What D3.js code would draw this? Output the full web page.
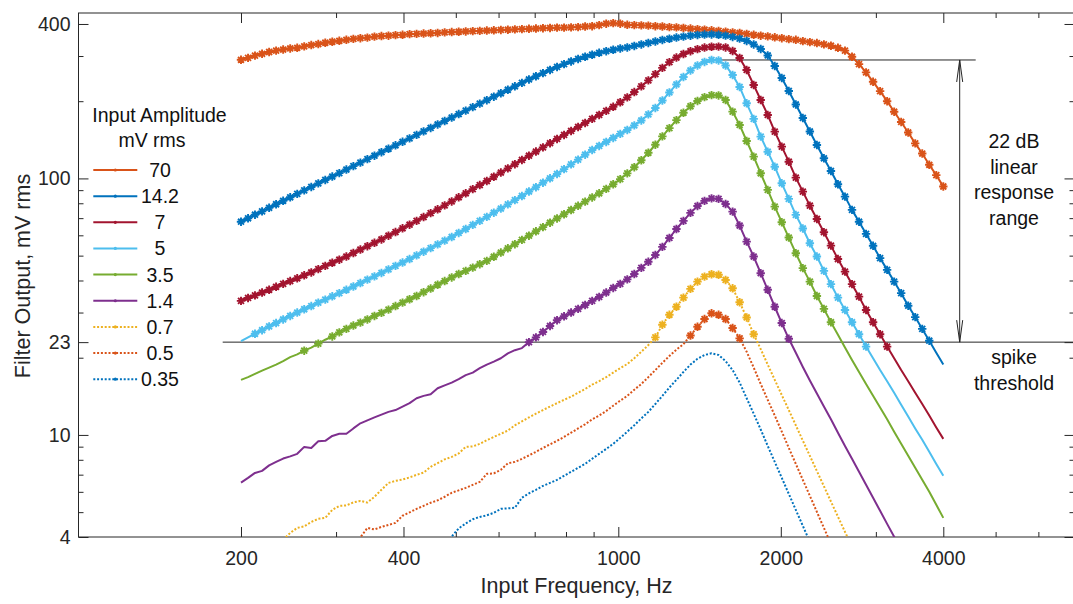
<!DOCTYPE html>
<html>
<head>
<meta charset="utf-8">
<script src="https://cdn.jsdelivr.net/npm/d3@7"></script>
<style>
  body { margin: 0; background: #fff; }
  svg { display: block; }
  text { font-family: "Liberation Sans", Arial, Helvetica, sans-serif; }
</style>
</head>
<body>
<svg id="chart" width="1073" height="604"></svg>
<script>
// Stimulus frequencies (Hz), log-spaced sweep 200 Hz .. 4 kHz
const freqs = [
  200.0, 206.1, 212.3, 218.8, 225.5, 232.3, 239.4, 246.7, 254.2, 261.9,
  269.9, 278.1, 286.5, 295.2, 304.2, 313.5, 323.0, 332.8, 342.9, 353.4,
  364.1, 375.2, 386.6, 398.4, 410.5, 423.0, 435.8, 449.1, 462.7, 476.8,
  491.3, 506.2, 521.6, 537.5, 553.8, 570.7, 588.0, 605.9, 624.3, 643.3,
  662.9, 683.1, 703.8, 725.2, 747.3, 770.0, 793.4, 817.5, 842.4, 868.0,
  894.4, 921.6, 949.7, 978.5, 1008.3, 1039.0, 1070.6, 1103.1, 1136.7, 1171.2,
  1206.8, 1243.5, 1281.4, 1320.3, 1360.5, 1401.8, 1444.5, 1488.4, 1533.7, 1580.3,
  1628.4, 1677.9, 1728.9, 1781.5, 1835.7, 1891.5, 1949.0, 2008.3, 2069.3, 2132.3,
  2197.1, 2263.9, 2332.8, 2403.7, 2476.8, 2552.1, 2629.8, 2709.7, 2792.1, 2877.0,
  2964.5, 3054.7, 3147.6, 3243.3, 3341.9, 3443.6, 3548.3, 3656.2, 3767.4, 3881.9,
  4000.0
];

// Input amplitudes (mV rms) and legend styling
const amplitudes = ["70", "14.2", "7", "5", "3.5", "1.4", "0.7", "0.5", "0.35"];
const colors = ["#D95319", "#0072BD", "#A2142F", "#4DBEEE", "#77AC30", "#7E2F8E", "#EDB120", "#D95319", "#0072BD"];
const dotted = [false, false, false, false, false, false, true, true, true];

// Filter output (mV rms) for each input amplitude; firstIdx = index into freqs of first value
const out70 = [
  290, 295, 301, 306, 311, 315, 318, 321, 323, 327,
  331, 334, 338, 341, 344, 347, 350, 352, 354, 357,
  359, 360, 362, 363, 365, 366, 367, 368, 369, 371,
  372, 373, 374, 375, 376, 377, 378, 379, 380, 381,
  382, 383, 384, 385, 386, 387, 387, 388, 389, 391,
  392, 396, 401, 403, 401, 397, 396, 395, 394, 392,
  391, 389, 388, 386, 384, 382, 380, 378, 376, 373,
  371, 369, 366, 363, 360, 358, 355, 352, 349, 347,
  343, 340, 337, 333, 329, 323, 315, 298, 279, 259,
  238, 219, 200, 182, 166, 151, 137, 125, 113, 103, 93
];
const out14_2 = [
  67.8, 69.9, 72.2, 74.4, 76.8, 79.3, 81.8, 84.4, 87.0, 89.8,
  92.6, 95.6, 98.6, 101.7, 104.9, 108.3, 111.7, 115.2, 118.9, 122.6,
  126.5, 130.5, 134.6, 138.9, 143.3, 147.8, 152.5, 157.3, 162.3, 167.4,
  172.7, 178.2, 183.8, 189.6, 195.6, 201.8, 208.2, 214.8, 221.6, 228.6,
  235.8, 243.1, 250.2, 257.4, 264.7, 272.0, 278.9, 285.7, 292.2, 298.0,
  303.4, 308.8, 313.3, 317.4, 321.1, 324.0, 328.4, 332.8, 337.3, 341.9,
  346.5, 350.3, 354.1, 357.2, 360.1, 362.4, 363.7, 364.0, 363.0, 360.4,
  356.0, 350.6, 343.4, 332.8, 319.7, 301.5, 274.4, 246.4, 219.2, 194.2,
  172.1, 152.4, 135.0, 119.8, 106.9, 94.9, 84.9, 75.4, 67.8, 60.8,
  54.6, 48.9, 44.0, 39.6, 35.7, 31.9, 28.8, 25.9, 23.3, 20.9, 18.8
];
const out7 = [
  33.3, 34.2, 35.0, 35.9, 36.8, 37.8, 38.8, 39.8, 40.8, 41.9,
  43.0, 44.3, 45.6, 46.9, 48.2, 49.6, 51.2, 52.8, 54.4, 56.1,
  57.8, 59.8, 61.8, 63.9, 66.0, 68.3, 70.7, 73.2, 75.8, 78.5,
  81.3, 84.4, 87.5, 90.8, 94.2, 97.7, 101.5, 105.4, 109.4, 113.6,
  118.0, 122.6, 127.3, 132.1, 137.2, 142.5, 147.7, 153.1, 158.7, 164.5,
  170.6, 176.8, 183.3, 190.2, 198.1, 207.0, 217.1, 228.5, 241.1, 254.9,
  269.6, 284.0, 295.9, 305.5, 313.3, 319.1, 323.7, 326.0, 326.3, 324.0,
  313.9, 294.8, 264.7, 231.4, 202.2, 176.8, 152.2, 133.0, 116.2, 100.7,
  88.8, 78.3, 69.5, 61.7, 54.7, 48.5, 43.3, 38.7, 34.6, 30.7,
  27.5, 24.7, 22.1, 19.9, 17.9, 16.2, 14.6, 13.2, 11.9, 10.7, 9.65
];
const out5 = [
  23.2, 24.0, 24.8, 25.6, 26.5, 27.3, 28.2, 29.1, 30.0, 30.9,
  31.8, 32.8, 33.7, 34.7, 35.7, 36.8, 37.9, 39.1, 40.3, 41.5,
  42.8, 44.2, 45.6, 47.0, 48.5, 50.1, 51.8, 53.5, 55.3, 57.2,
  59.1, 61.3, 63.5, 65.9, 68.3, 70.8, 73.5, 76.3, 79.2, 82.3,
  85.4, 88.9, 92.4, 96.2, 100.1, 104.1, 108.7, 113.4, 118.4, 123.7,
  129.1, 133.8, 138.7, 143.8, 149.1, 154.5, 160.9, 168.2, 177.6, 188.2,
  201.3, 216.3, 232.4, 248.6, 263.5, 275.7, 284.5, 289.6, 288.3, 275.7,
  253.1, 227.3, 196.3, 170.6, 145.5, 127.1, 111.1, 95.7, 83.2, 72.1,
  63.8, 55.9, 49.6, 43.6, 38.7, 34.3, 30.7, 27.5, 24.7, 22.1,
  19.9, 17.9, 16.2, 14.6, 13.1, 11.8, 10.6, 9.57, 8.59, 7.71, 6.93
];
const out3_5 = [
  16.4, 16.8, 17.3, 17.8, 18.3, 18.8, 19.4, 20.1, 20.6, 21.3,
  21.9, 22.7, 23.5, 24.2, 25.1, 25.9, 26.7, 27.4, 28.2, 29.1,
  29.9, 30.8, 31.8, 32.8, 33.8, 34.8, 36.0, 37.2, 38.5, 39.8,
  41.1, 42.4, 43.6, 44.9, 46.3, 47.7, 49.5, 51.4, 53.4, 55.4,
  57.6, 59.8, 62.2, 64.6, 67.2, 69.8, 72.5, 75.3, 78.2, 81.2,
  84.3, 87.5, 91.0, 94.9, 99.4, 104.6, 110.6, 117.7, 125.9, 135.3,
  145.8, 157.0, 168.7, 180.3, 191.1, 200.4, 207.4, 211.1, 210.6, 202.2,
  182.1, 161.6, 139.9, 121.6, 104.7, 90.2, 77.6, 67.5, 58.8, 51.1,
  44.7, 39.6, 34.8, 31.0, 27.5, 24.6, 21.9, 19.6, 17.6, 15.8,
  14.2, 12.8, 11.5, 10.3, 9.23, 8.29, 7.44, 6.68, 6.00, 5.34, 4.75
];
const out1_4 = [
  6.52, 6.80, 7.11, 7.24, 7.61, 7.85, 8.09, 8.25, 8.44, 8.98,
  8.90, 9.44, 9.48, 9.91, 10.1, 10.1, 10.6, 11.1, 11.4, 11.7,
  12.0, 12.3, 12.5, 12.9, 13.3, 13.9, 14.2, 14.4, 15.2, 15.6,
  16.0, 16.5, 17.1, 17.5, 18.2, 18.8, 19.3, 19.9, 20.8, 21.4,
  21.8, 23.0, 24.0, 25.2, 26.6, 28.0, 29.0, 30.0, 31.0, 32.1,
  33.3, 34.5, 35.9, 37.4, 38.8, 40.4, 42.4, 44.8, 47.3, 50.3,
  54.1, 58.6, 63.5, 68.3, 73.4, 78.1, 81.7, 83.6, 83.2, 79.5,
  74.2, 65.5, 56.7, 49.6, 42.7, 36.8, 31.6, 27.3, 23.7, 20.9,
  18.4, 16.3, 14.5, 12.9, 11.5, 10.2, 9.06, 8.07, 7.18, 6.39,
  5.69, 5.06, 4.50, 4.01, 3.57
];
const out0_7 = [
  3.90, 4.15, 4.34, 4.40, 4.58, 4.71, 4.75, 5.10, 5.29, 5.31,
  5.46, 5.53, 5.45, 5.74, 6.11, 6.50, 6.62, 6.70, 6.83, 6.99,
  7.13, 7.51, 7.76, 8.03, 8.21, 8.47, 8.98, 9.02, 9.23, 9.54,
  9.82, 10.1, 10.4, 10.9, 11.3, 11.7, 12.1, 12.5, 12.9, 13.3,
  13.7, 14.1, 14.6, 15.1, 15.7, 16.2, 16.8, 17.5, 18.2, 18.9,
  19.9, 21.1, 22.4, 24.0, 26.9, 29.4, 31.6, 34.3, 37.1, 39.6,
  41.4, 42.3, 42.1, 40.2, 37.3, 32.9, 28.7, 24.7, 21.6, 18.8,
  16.4, 14.3, 12.5, 10.9, 9.50, 8.29, 7.23, 6.31, 5.50, 4.80, 4.19, 3.66
];
const out0_5 = [
  3.73, 3.99, 4.34, 4.28, 4.38, 4.46, 4.54, 4.84, 4.99, 5.15,
  5.29, 5.44, 5.56, 5.74, 5.95, 6.08, 6.22, 6.39, 6.56, 7.05,
  7.08, 7.31, 7.75, 7.85, 8.07, 8.32, 8.59, 8.90, 9.19, 9.48,
  9.82, 10.2, 10.6, 11.0, 11.5, 11.9, 12.4, 13.0, 13.6, 14.2,
  15.0, 15.8, 16.8, 17.9, 19.1, 20.3, 21.5, 22.6, 24.4, 26.4,
  28.3, 29.8, 29.4, 28.3, 26.1, 23.8, 21.1, 18.3, 15.8, 13.7,
  11.9, 10.3, 8.90, 7.71, 6.68, 5.79, 5.01, 4.34, 3.76
];
const out0_35 = [
  3.73, 4.02, 4.32, 4.52, 4.69, 4.79, 4.86, 4.97, 5.15, 5.17,
  5.20, 5.69, 5.92, 6.11, 6.33, 6.50, 6.68, 6.93, 7.18, 7.44,
  7.71, 8.07, 8.44, 8.82, 9.23, 9.74, 10.3, 10.9, 11.6, 12.3,
  13.2, 14.2, 15.3, 16.4, 17.6, 18.8, 19.8, 20.5, 20.8, 20.5,
  19.4, 17.9, 16.0, 13.9, 12.1, 10.5, 9.06, 7.85, 6.80, 5.89,
  5.10, 4.42, 3.83
];
const outputs = [out70, out14_2, out7, out5, out3_5, out1_4, out0_7, out0_5, out0_35];
const firstIdx = [0, 0, 0, 0, 0, 0, 6, 16, 29];

// Frequency-index ranges where the neuron model fired (drawn with asterisks)
const spikeRanges = [
  [[0, 100]], [[0, 98]], [[0, 92]], [[2, 89]],
  [[9, 9], [11, 11], [13, 84]], [[41, 78]], [[59, 73]], [[64, 71]], []
];

// Axis ticks
const xMajor = [200, 400, 1000, 2000, 4000];
const xMinor = [300, 500, 600, 700, 800, 900, 3000, 5000, 6000];
const yMajor = [4, 10, 23, 100, 400];
const yMinor = [5, 6, 7, 8, 9, 20, 30, 40, 50, 60, 70, 80, 90, 200, 300];

const thresholdMv = 23;
const rangeDb = 22;

const svg = d3.select("#chart");
const plotL = 78.5, plotR = 1074.5, plotT = 13, plotB = 537;
const x = d3.scaleLog().domain([100, 7000]).range([plotL, plotR]);
const y = d3.scaleLog().domain([4, 441.4]).range([plotB, plotT]);
const axisColor = "#262626";
const fontFamily = '"Liberation Sans", Arial, Helvetica, sans-serif';

svg.append("rect").attr("width", 1073).attr("height", 604).attr("fill", "#fff");

svg.append("defs").append("clipPath").attr("id", "plotClip")
  .append("rect").attr("x", plotL).attr("y", plotT).attr("width", plotR - plotL).attr("height", plotB - plotT);

// Axes (ticks point inward, mirrored on the opposite sides)
function styleAxis(g) {
  g.select(".domain").remove();
  g.selectAll(".tick line").attr("stroke", axisColor).attr("stroke-width", 1);
  g.selectAll("text").attr("fill", axisColor).style("font-family", fontFamily).style("font-size", "19.5px");
}
const fmt = d => String(d);
svg.append("g").attr("transform", `translate(0,${plotB})`)
  .call(d3.axisBottom(x).tickValues(xMajor).tickFormat(fmt).tickSize(-10).tickPadding(14)).call(styleAxis);
svg.append("g").attr("transform", `translate(0,${plotB})`)
  .call(d3.axisBottom(x).tickValues(xMinor).tickFormat("").tickSize(-5)).call(styleAxis);
svg.append("g").attr("transform", `translate(0,${plotT})`)
  .call(d3.axisTop(x).tickValues(xMajor).tickFormat("").tickSize(-10)).call(styleAxis);
svg.append("g").attr("transform", `translate(0,${plotT})`)
  .call(d3.axisTop(x).tickValues(xMinor).tickFormat("").tickSize(-5)).call(styleAxis);
svg.append("g").attr("transform", `translate(${plotL},0)`)
  .call(d3.axisLeft(y).tickValues(yMajor).tickFormat(fmt).tickSize(-10).tickPadding(8)).call(styleAxis);
svg.append("g").attr("transform", `translate(${plotL},0)`)
  .call(d3.axisLeft(y).tickValues(yMinor).tickFormat("").tickSize(-5)).call(styleAxis);
svg.append("g").attr("transform", `translate(${plotR},0)`)
  .call(d3.axisRight(y).tickValues(yMajor).tickFormat("").tickSize(-10)).call(styleAxis);
svg.append("g").attr("transform", `translate(${plotR},0)`)
  .call(d3.axisRight(y).tickValues(yMinor).tickFormat("").tickSize(-5)).call(styleAxis);

// Axes box
svg.append("rect").attr("x", plotL).attr("y", plotT).attr("width", plotR - plotL).attr("height", plotB - plotT)
  .attr("fill", "none").attr("stroke", axisColor).attr("stroke-width", 1);

// Axis labels
svg.append("text").attr("x", (plotL + plotR) / 2).attr("y", 593).attr("text-anchor", "middle")
  .attr("fill", axisColor).style("font-size", "21.5px").text("Input Frequency, Hz");
svg.append("text").attr("transform", "translate(30,276) rotate(-90)").attr("text-anchor", "middle")
  .attr("fill", axisColor).style("font-size", "21.5px").text("Filter Output, mV rms");

// Spike threshold and linear-range annotation
const yThr = y(thresholdMv);
const topMv = thresholdMv * Math.pow(10, rangeDb / 20);
const yTop = y(topMv);
const ann = svg.append("g").attr("stroke", "#262626").attr("stroke-width", 1).attr("fill", "none");
ann.append("line").attr("x1", 222.7).attr("x2", plotR).attr("y1", yThr).attr("y2", yThr);
ann.append("line").attr("x1", 713.3).attr("x2", 975.7).attr("y1", yTop).attr("y2", yTop);
const ax = 959.7;
ann.append("line").attr("x1", ax).attr("x2", ax).attr("y1", yTop).attr("y2", yThr);
ann.append("path").attr("d", `M${ax - 3},${yTop + 22}L${ax},${yTop}L${ax + 3},${yTop + 22}`);
ann.append("path").attr("d", `M${ax - 3},${yThr - 22}L${ax},${yThr}L${ax + 3},${yThr - 22}`);

const annText = svg.append("g").attr("fill", "#111").attr("text-anchor", "middle").style("font-size", "19.5px");
[["22 dB", 148.3], ["linear", 173.8], ["response", 199.3], ["range", 224.8], ["spike", 364.3], ["threshold", 390]]
  .forEach(([t, by]) => annText.append("text").attr("x", 1014).attr("y", by).text(t));

// Data series
const series = amplitudes.map((a, k) => ({
  label: a,
  color: colors[k],
  dotted: dotted[k],
  points: outputs[k].map((v, j) => ({ f: freqs[firstIdx[k] + j], v, idx: firstIdx[k] + j })),
  spikes: spikeRanges[k]
}));

const line = d3.line().x(d => x(d.f)).y(d => y(d.v));
const r = 4.2, dd = r * 0.7071;
const starPath = `M${-r},0H${r}M0,${-r}V${r}M${-dd},${-dd}L${dd},${dd}M${-dd},${dd}L${dd},${-dd}`;

const plot = svg.append("g").attr("clip-path", "url(#plotClip)");
series.forEach(s => {
  const g = plot.append("g");
  g.append("path").datum(s.points).attr("d", line)
    .attr("fill", "none").attr("stroke", s.color).attr("stroke-width", 2)
    .attr("stroke-linejoin", "round")
    .attr("stroke-dasharray", s.dotted ? "2,1.8" : null);
  const fired = s.points.filter(p => s.spikes.some(([a, b]) => p.idx >= a && p.idx <= b));
  g.selectAll("path.star").data(fired).join("path").attr("class", "star")
    .attr("d", starPath)
    .attr("transform", p => `translate(${x(p.f)},${y(p.v)})`)
    .attr("fill", "none").attr("stroke", s.color).attr("stroke-width", 1.9);
});

// Legend
const lg = svg.append("g");
lg.append("text").attr("x", 159.5).attr("y", 122).attr("text-anchor", "middle").attr("fill", "#111")
  .style("font-size", "19.5px").text("Input Amplitude");
lg.append("text").attr("x", 152).attr("y", 147.3).attr("text-anchor", "middle").attr("fill", "#111")
  .style("font-size", "19.5px").text("mV rms");
series.forEach((s, k) => {
  const ly = 170 + k * 26.15;
  lg.append("line").attr("x1", 93.3).attr("x2", 137.3).attr("y1", ly).attr("y2", ly)
    .attr("stroke", s.color).attr("stroke-width", 2)
    .attr("stroke-dasharray", s.dotted ? "2,1.8" : null);
  lg.append("circle").attr("cx", 115.3).attr("cy", ly).attr("r", 1.6).attr("fill", s.color);
  lg.append("text").attr("x", 160).attr("y", ly + 7).attr("text-anchor", "middle").attr("fill", "#111")
    .style("font-size", "19.5px").text(s.label);
});
</script>
</body>
</html>
